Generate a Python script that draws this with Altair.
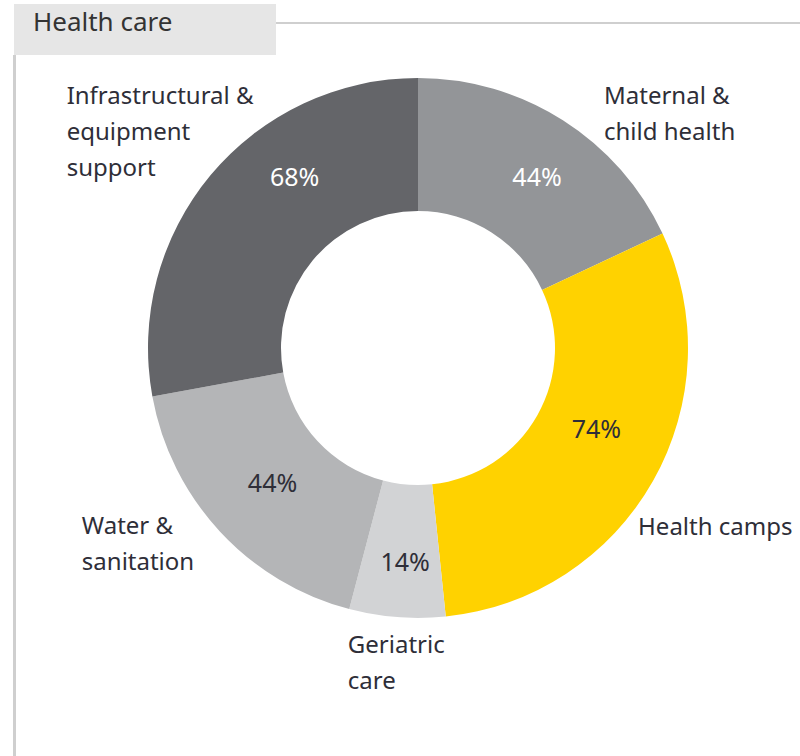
import math
import altair as alt
import pandas as pd

# Share of companies running each health-care programme
categories = ["Maternal & child health", "Health camps", "Geriatric care",
              "Water & sanitation", "Infrastructural & equipment support"]
values = [44, 74, 14, 44, 68]
label_lines = ["Maternal &\nchild health", "Health camps", "Geriatric\ncare",
               "Water &\nsanitation", "Infrastructural &\nequipment\nsupport"]

# Styling / layout
slice_colors = ["#939598", "#FFD200", "#D2D3D5", "#B4B5B7", "#646569"]
pct_text_colors = ["#FFFFFF", "#2E2E38", "#2E2E38", "#2E2E38", "#FFFFFF"]
CX, CY = 418, 348          # donut centre (px)
R_OUT, R_IN = 270, 137      # ring radii
R_PCT, R_LBL = 205, 300     # radii for value labels and category labels
FONT = "Noto Sans"
TXT = "#2E2E38"
# per-label nudges from the polar anchor (dx, dy) in px
pct_nudge = [(9, 3), (0, -19), (3, 11), (5, -3), (34, -39)]
lbl_nudge = [(25, -10), (-41, 20), (-47, -13), (-116, -37), (-121, -71)]

total = sum(values)
mid_angles = []
acc = 0
for v in values:
    mid_angles.append((acc + v / 2) / total * 2 * math.pi)
    acc += v

def polar(a, r):
    return CX + r * math.sin(a), CY - r * math.cos(a)

arcs = pd.DataFrame({"category": categories, "value": values,
                     "order": list(range(len(values)))})

pct_rows, lbl_rows = [], []
for i, a in enumerate(mid_angles):
    px, py = polar(a, R_PCT)
    pct_rows.append({"text": f"{values[i]}%", "x": px + pct_nudge[i][0],
                     "y": py + pct_nudge[i][1], "c": pct_text_colors[i]})
    lx, ly = polar(a, R_LBL)
    lbl_rows.append({"text": label_lines[i], "x": lx + lbl_nudge[i][0],
                     "y": ly + lbl_nudge[i][1]})
pct_df = pd.DataFrame(pct_rows)
lbl_df = pd.DataFrame(lbl_rows)

W, H = 800, 756

# panel frame: title tab, top rule and left rule
tab = alt.Chart(pd.DataFrame({"t": ["Health care"]})).mark_rect(
    color="#E6E6E6").encode(x=alt.value(14), x2=alt.value(276),
                            y=alt.value(4), y2=alt.value(55))
top_rule = alt.Chart(pd.DataFrame({"t": [0]})).mark_rule(
    color="#CFCFCF", strokeWidth=2).encode(
    x=alt.value(276), x2=alt.value(800), y=alt.value(23))
left_rule = alt.Chart(pd.DataFrame({"t": [0]})).mark_rule(
    color="#CFCFCF", strokeWidth=3).encode(
    x=alt.value(14.5), y=alt.value(55), y2=alt.value(756))
title = alt.Chart(pd.DataFrame({"t": ["Health care"]})).mark_text(
    font=FONT, fontSize=26, color="#333333", align="left",
    baseline="middle").encode(x=alt.value(33), y=alt.value(23), text="t:N")

donut = alt.Chart(arcs).mark_arc(radius=R_OUT, radius2=R_IN).encode(
    theta=alt.Theta("value:Q", stack=True),
    order=alt.Order("order:Q"),
    color=alt.Color("category:N", legend=None,
                    scale=alt.Scale(domain=categories, range=slice_colors)),
    x=alt.value(CX), y=alt.value(CY),
)

pct = alt.Chart(pct_df).mark_text(font=FONT, fontSize=25, align="center",
                                  baseline="middle").encode(
    x=alt.X("x:Q", scale=None, axis=None),
    y=alt.Y("y:Q", scale=None, axis=None),
    text="text:N",
    color=alt.Color("c:N", scale=None),
)

labels = alt.Chart(lbl_df).mark_text(font=FONT, fontSize=24, align="left",
                                     baseline="top", lineBreak="\n",
                                     lineHeight=36, color=TXT).encode(
    x=alt.X("x:Q", scale=None, axis=None),
    y=alt.Y("y:Q", scale=None, axis=None),
    text="text:N",
)

chart = alt.layer(tab, top_rule, left_rule, title, donut, pct, labels).properties(
    width=W, height=H, padding=0, background="white",
    autosize=alt.AutoSizeParams(type="none"),
).configure_view(stroke=None)

chart.save("out.html", embed_options={"renderer": "svg", "actions": False})
